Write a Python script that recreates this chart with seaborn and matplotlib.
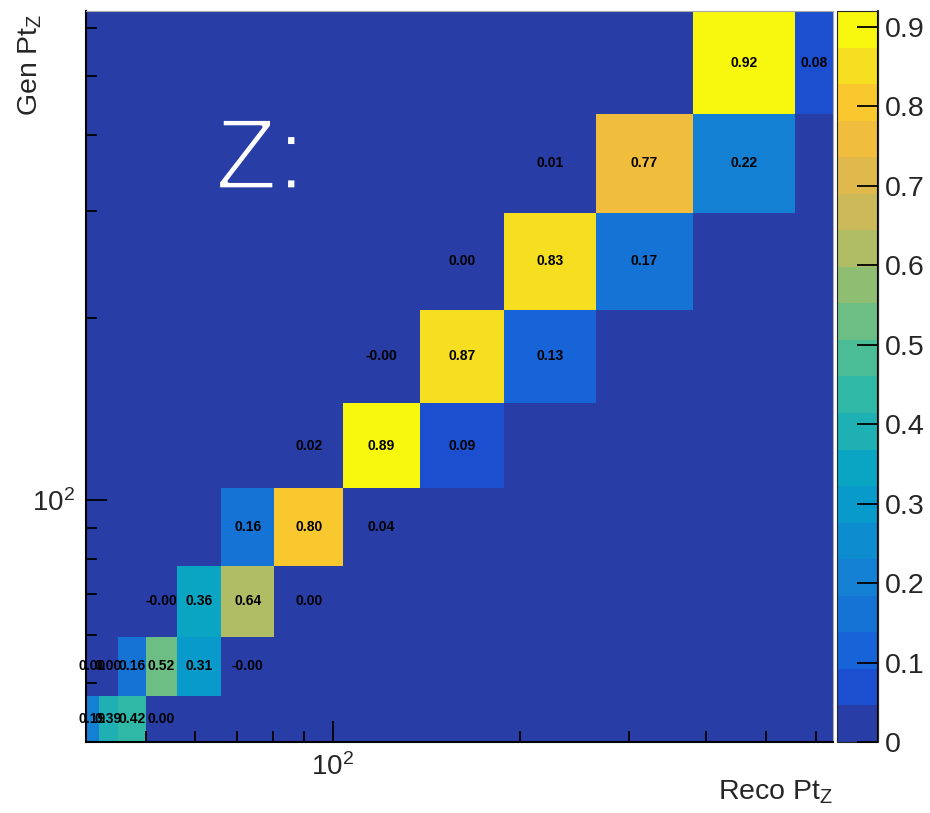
import numpy as np
import pandas as pd
import matplotlib
matplotlib.use("Agg")
import matplotlib.pyplot as plt
import matplotlib.patheffects as pe
from matplotlib.colors import ListedColormap
from matplotlib.ticker import FixedLocator, NullFormatter, FuncFormatter
import seaborn as sns

# Bin edges of the response matrix (GeV)
reco_edges = [40, 42, 45, 50, 56, 66, 80.5, 104, 138, 189, 266, 380, 555, 640]
gen_edges = [40, 47.6, 59.6, 78, 104.7, 144.7, 206, 298, 433, 640]

# Row-normalised migration fractions: for each gen bin, the first filled
# reco bin and the fractions that follow it
first_reco_bin = [0, 0, 3, 5, 6, 7, 8, 9, 11]
fractions = [
    [0.19, 0.39, 0.42, 0.003],
    [0.001, 0.002, 0.16, 0.52, 0.31, -0.002],
    [-0.001, 0.36, 0.64, 0.002],
    [0.16, 0.80, 0.04],
    [0.02, 0.89, 0.09],
    [-0.001, 0.87, 0.13],
    [0.002, 0.83, 0.17],
    [0.01, 0.77, 0.22],
    [0.92, 0.08],
]

colorbar_ticks = [0, 0.1, 0.2, 0.3, 0.4, 0.5, 0.6, 0.7, 0.8, 0.9]
z_max = 0.92

# 20-level bird palette
bird20 = [
    "#283da6", "#1c4fcf", "#1664d8", "#1573d6", "#1480d3",
    "#0d8dd0", "#079acb", "#09a5c3", "#1fb0b4", "#2fb8a6",
    "#4abd96", "#6cbe84", "#8fbe73", "#b0bd64", "#cbb95a",
    "#e0b94c", "#f0bd3c", "#f8c82e", "#f6df20", "#f8f80f",
]
cmap = ListedColormap(bird20)

sns.set_style("white")
plt.rcParams["font.family"] = ["Liberation Sans", "DejaVu Sans"]
plt.rcParams["mathtext.default"] = "regular"

# Long-form table: one row per filled cell, placed at the log-centre of its bin
rx = np.asarray(reco_edges)
gy = np.asarray(gen_edges)
reco_c = np.sqrt(rx[:-1] * rx[1:])
gen_c = np.sqrt(gy[:-1] * gy[1:])
records = []
for g, (start, row) in enumerate(zip(first_reco_bin, fractions)):
    for k, v in enumerate(row):
        records.append({"reco": reco_c[start + k], "gen": gen_c[g], "frac": v})
df = pd.DataFrame(records)

W, H = 930, 813
fig = plt.figure(figsize=(W / 100, H / 100), dpi=100)
ax = fig.add_axes([86 / W, 71 / H, 747 / W, 731 / H])
cax = fig.add_axes([837 / W, 71 / H, 41 / W, 731 / H])

sns.histplot(
    data=df, x="reco", y="gen", weights="frac",
    bins=[reco_edges, gen_edges], thresh=None,
    cmap=cmap, vmin=0, vmax=z_max,
    cbar=True, cbar_ax=cax, ax=ax,
)

ax.set_axisbelow(False)
cax.set_axisbelow(False)
ax.set_facecolor(bird20[0])
ax.set_xscale("log")
ax.set_yscale("log")
ax.set_xlim(reco_edges[0], reco_edges[-1])
ax.set_ylim(gen_edges[0], gen_edges[-1])
ax.set_xlabel("")
ax.set_ylabel("")

minor = [50, 60, 70, 80, 90, 200, 300, 400, 500, 600]
for axis in (ax.xaxis, ax.yaxis):
    axis.set_major_locator(FixedLocator([100]))
    axis.set_minor_locator(FixedLocator(minor))
    axis.set_major_formatter(FuncFormatter(lambda v, p: r"$10^{2}$"))
    axis.set_minor_formatter(NullFormatter())

ax.tick_params(which="both", direction="in", top=False, right=False,
               bottom=True, left=True, width=1.3, color="black")
ax.tick_params(which="major", length=15, labelsize=20)
ax.tick_params(which="minor", length=8)
ax.tick_params(axis="x", which="major", pad=8)
ax.tick_params(axis="y", which="major", pad=8)

for side in ("left", "bottom"):
    ax.spines[side].set_color("black")
    ax.spines[side].set_linewidth(1.5)
for side in ("top", "right"):
    ax.spines[side].set_color("#aaaaaa")
    ax.spines[side].set_linewidth(0.8)

# Cell contents
for _, r in df.iterrows():
    ax.text(r["reco"], r["gen"], f"{r['frac']:.2f}", ha="center", va="center",
            fontsize=10, fontweight="bold", color="black")

# Large light "Z:" tag; the regular face is slimmed with a background-coloured outline
ax.text(0.173, 0.7565, "Z:", transform=ax.transAxes, color="white",
        fontsize=73, va="baseline", ha="left",
        path_effects=[pe.Normal(),
                      pe.Stroke(linewidth=2.4, foreground=bird20[0])])

ax.text(1.0, -0.079, r"Reco Pt$_Z$", transform=ax.transAxes,
        ha="right", va="baseline", fontsize=20.5)
ax.text(-0.093, 0.997, r"Gen Pt$_Z$", transform=ax.transAxes, rotation=90,
        ha="left", va="top", fontsize=20.5)

# Colour scale
cax.yaxis.set_ticks_position("right")
cax.set_yticks(colorbar_ticks)
cax.yaxis.set_major_formatter(FuncFormatter(lambda v, p: f"{v:g}"))
cax.tick_params(axis="y", which="major", direction="in", right=True, left=False,
                length=15, width=1.3, labelsize=20.5, pad=5, color="black")
cax.minorticks_off()
cax.plot([1, 1], [0, 1], transform=cax.transAxes, color="black", lw=1.5,
         clip_on=False)

fig.savefig("out.png", dpi=100, facecolor="white")
